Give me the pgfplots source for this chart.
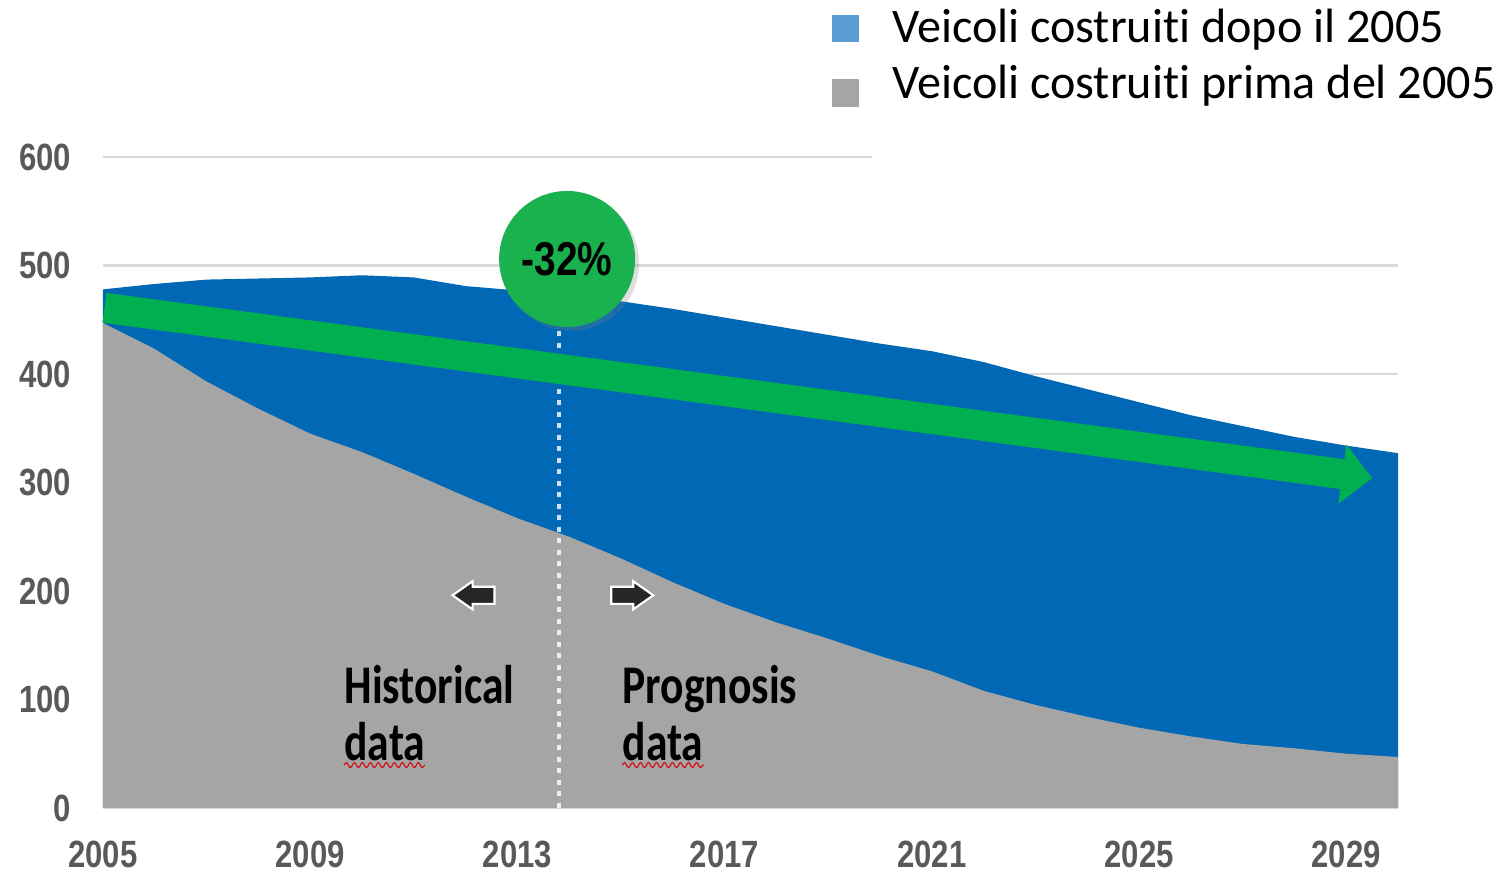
\documentclass[border=0pt]{standalone}
\usepackage{fontspec}
\setmainfont{Carlito}[Ligatures=NoCommon]
\newfontfamily\ticksfont[FakeStretch=0.82]{Liberation Sans}
\newfontfamily\annfont[FakeStretch=0.8, Ligatures=NoCommon]{Carlito}
\usepackage{pgfplots}
\pgfplotsset{compat=1.18}
\usepackage{pgfplotstable}
\usetikzlibrary{arrows.meta,shapes.arrows,shadows,decorations.pathmorphing}

\definecolor{areablue}{HTML}{0068B4}
\definecolor{areagrey}{HTML}{A5A5A5}
\definecolor{legblue}{HTML}{5B9BD5}
\definecolor{arrowgreen}{HTML}{00B050}
\definecolor{circgreen}{HTML}{1AB24E}
\definecolor{tickgrey}{HTML}{595959}
\definecolor{gridgrey}{HTML}{D9D9D9}

% vehicles (thousands): built before 2005, and total fleet
\pgfplotstableread{
year before total
2005 447 478
2006 423 483
2007 393 487
2008 368 488
2009 345 489
2010 328 491
2011 308 489
2012 287 481
2013 267 477
2014 250 472
2015 230 467
2016 208 460
2017 188 452
2018 171 444
2019 156 436
2020 140 428
2021 126 421
2022 108 411
2023 95 398
2024 84 386
2025 74 374
2026 66 362
2027 59 352
2028 55 342
2029 50 334
2030 47 327
}\vehicles

\begin{document}
\begin{tikzpicture}
\begin{axis}[
  name=ax,
  scale only axis,
  width=12.95cm, height=6.51cm,
  xmin=2005, xmax=2030, ymin=0, ymax=600,
  xtick={2005,2009,...,2029},
  ytick={0,100,...,600},
  clip=false,
  axis line style={draw=none},
  major tick length=0pt,
  ymajorgrids=true,
  grid style={gridgrey, line width=0.6pt},
  /pgf/number format/1000 sep={},
  /pgf/number format/assume math mode=true,
  tick label style={font=\ticksfont\bfseries\fontsize{10.8}{12}\selectfont, text=tickgrey},
  yticklabel style={inner sep=0pt, xshift=-0.31cm},
  xticklabel style={inner sep=0pt, yshift=-0.32cm},
  legend style={at={(rel axis cs:0.554,1.25)}, anchor=north west, draw=none, fill=none,
    font=\fontsize{13.7}{16}\selectfont, row sep=0.03cm},
  legend cell align=left,
]
% total fleet (blue) with the pre-2005 share (grey) laid over it
\addplot[fill=areablue, draw=none, forget plot] table[x=year, y=total] {\vehicles} \closedcycle;
\addplot[fill=areagrey, draw=none, forget plot] table[x=year, y=before] {\vehicles} \closedcycle;

\addlegendimage{legend image code/.code={\fill[legblue] (0cm,-0.13cm) rectangle (0.26cm,0.13cm); \path (0.52cm,0) ;}}
\addlegendentry{Veicoli costruiti dopo il 2005}
\addlegendimage{legend image code/.code={\fill[areagrey] (0cm,-0.22cm) rectangle (0.26cm,0.04cm); \path (0.52cm,0) ;}}
\addlegendentry{Veicoli costruiti prima del 2005}

% white patch hiding the top grid line under the legend
\fill[white] (rel axis cs:0.594,0.98) rectangle (rel axis cs:1.01,1.02);

% split between historical and prognosis data
\draw[white, opacity=0.8, line width=0.045cm, dash pattern=on 0.05cm off 0.065cm]
  (axis cs:2013.8,0) -- (axis cs:2013.8,445);

% overall trend arrow
\draw[arrowgreen, line width=0.30cm, -{Triangle[width=0.58cm,length=0.30cm]}]
  (axis cs:2005.03,461) -- (axis cs:2029.5,304);

\node[circle, fill=circgreen, minimum size=1.36cm, inner sep=0pt,
  drop shadow={opacity=0.25, shadow xshift=0.04cm, shadow yshift=-0.04cm},
  font=\ticksfont\bfseries\fontsize{13.5}{15}\selectfont]
  at (axis cs:2013.96,506) {-32\%};

\node[single arrow, fill=black!85, draw=white, line width=0.6pt, minimum height=0.42cm,
  inner sep=0.075cm, single arrow head extend=0.055cm, single arrow tip angle=70,
  shape border rotate=180]
  at (axis cs:2012.27,196) {};
\node[single arrow, fill=black!85, draw=white, line width=0.6pt, minimum height=0.42cm,
  inner sep=0.075cm, single arrow head extend=0.055cm, single arrow tip angle=70]
  at (axis cs:2015.1,196) {};

\node[anchor=base west, inner sep=0pt, font=\annfont\bfseries\fontsize{15.5}{18}\selectfont]
  at (axis cs:2009.65,96) {Historical};
\node[anchor=base west, inner sep=0pt, font=\annfont\bfseries\fontsize{15.5}{18}\selectfont]
  at (axis cs:2009.65,44) {data};
\node[anchor=base west, inner sep=0pt, font=\annfont\bfseries\fontsize{15.5}{18}\selectfont]
  at (axis cs:2015.02,96) {Prognosis};
\node[anchor=base west, inner sep=0pt, font=\annfont\bfseries\fontsize{15.5}{18}\selectfont]
  at (axis cs:2015.02,44) {data};
\draw[red!85!black, line width=0.3pt, decorate, decoration={snake, amplitude=0.25mm, segment length=0.8mm}]
  (axis cs:2009.65,39.5) -- (axis cs:2011.22,39.5);
\draw[red!85!black, line width=0.3pt, decorate, decoration={snake, amplitude=0.25mm, segment length=0.8mm}]
  (axis cs:2015.02,39.5) -- (axis cs:2016.6,39.5);
\end{axis}
\pgfresetboundingbox
\path ([shift={(-1.03cm,-0.63cm)}]ax.south west) rectangle ([shift={(1.07cm,1.57cm)}]ax.north east);
\end{tikzpicture}
\end{document}
